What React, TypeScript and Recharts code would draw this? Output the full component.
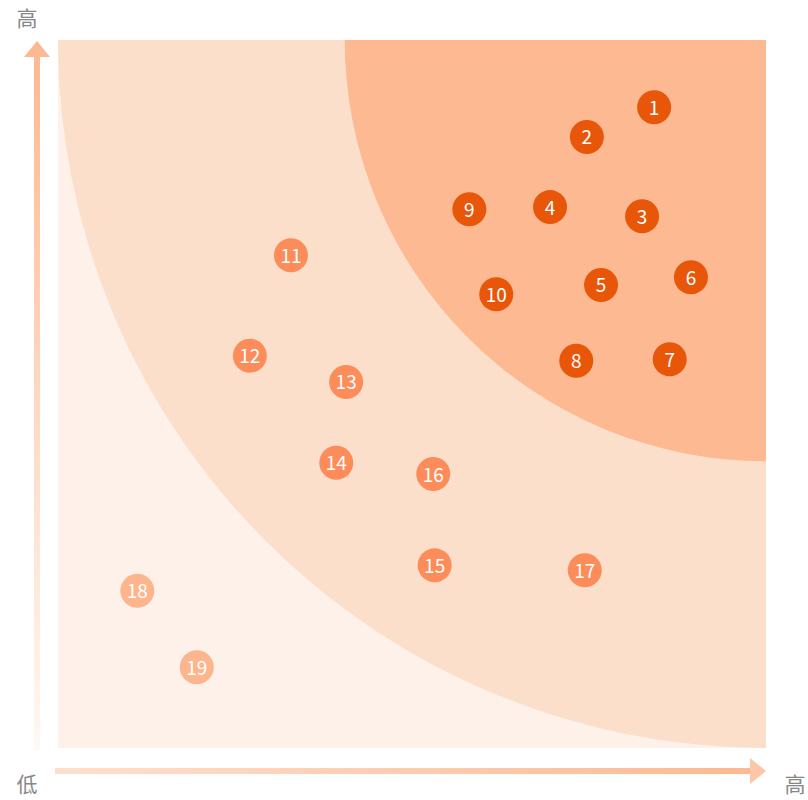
import { ScatterChart, Scatter, XAxis, YAxis, ReferenceArea } from 'recharts';

// 重要度矩阵：x = 紧急程度, y = 重要程度 (0-100)
const highIds = [1, 2, 3, 4, 5, 6, 7, 8, 9, 10];
const highX = [84.2, 74.7, 82.5, 69.5, 76.7, 89.4, 86.4, 73.2, 58.1, 61.9];
const highY = [90.5, 86.3, 75.1, 76.4, 65.4, 66.5, 54.9, 54.7, 76.1, 64.1];

const midIds = [11, 12, 13, 14, 15, 16, 17];
const midX = [32.9, 27.1, 40.7, 39.3, 53.2, 53.0, 74.4];
const midY = [69.6, 55.4, 51.7, 40.3, 25.8, 38.7, 25.1];

const lowIds = [18, 19];
const lowX = [11.2, 19.6];
const lowY = [22.2, 11.4];

const axisLabels = { yHigh: '高', xLow: '低', xHigh: '高' };

const toPoints = (ids: number[], xs: number[], ys: number[]) =>
  ids.map((id, i) => ({ id, x: xs[i], y: ys[i] }));

const highData = toPoints(highIds, highX, highY);
const midData = toPoints(midIds, midX, midY);
const lowData = toPoints(lowIds, lowX, lowY);

const makeDot = (color: string) => (props: any) => {
  const { cx, cy, payload } = props;
  return (
    <g>
      <circle cx={cx} cy={cy} r={17} fill={color} />
      <text
        x={cx}
        y={cy - 1}
        textAnchor="middle"
        dominantBaseline="central"
        fill="#fff"
        fontSize={19}
        fontFamily="'Noto Sans CJK SC', 'Noto Sans', sans-serif"
      >
        {payload.id}
      </text>
    </g>
  );
};

const Zones = (props: any) => {
  const { x, y, width, height } = props;
  const r1 = width;
  const r2 = width * 0.595;
  const right = x + width;
  const bottom = y + height;
  return (
    <g>
      <defs>
        <linearGradient id="vArrow" x1="0" y1="1" x2="0" y2="0">
          <stop offset="0%" stopColor="#fdb991" stopOpacity={0.1} />
          <stop offset="100%" stopColor="#fdb991" stopOpacity={1} />
        </linearGradient>
        <linearGradient id="hArrow" x1="0" y1="0" x2="1" y2="0">
          <stop offset="0%" stopColor="#fdb991" stopOpacity={0.45} />
          <stop offset="100%" stopColor="#fdb991" stopOpacity={1} />
        </linearGradient>
      </defs>
      <rect x={x} y={y} width={width} height={height} fill="#fdf1e9" />
      <path
        d={`M${right - r1},${y} A${r1},${r1} 0 0 0 ${right},${y + r1} L${right},${y} Z`}
        fill="#fbdfca"
      />
      <path
        d={`M${right - r2},${y} A${r2},${r2} 0 0 0 ${right},${y + r2} L${right},${y} Z`}
        fill="#fdb991"
      />
      {/* vertical arrow */}
      <rect x={x - 24} y={y + 16} width={6} height={height - 14} fill="url(#vArrow)" />
      <path d={`M${x - 21},${y + 1} L${x - 34},${y + 17} L${x - 8},${y + 17} Z`} fill="#fdb991" />
      {/* horizontal arrow */}
      <rect x={x - 3} y={bottom + 20} width={width - 13} height={6} fill="url(#hArrow)" />
      <path d={`M${right},${bottom + 23} L${right - 16},${bottom + 10} L${right - 16},${bottom + 36} Z`} fill="#fdc6a6" />
      <text x={x - 31} y={y - 23} textAnchor="middle" dominantBaseline="central" fill="#888" fontSize={21} fontFamily="'Noto Sans CJK SC', sans-serif">
        {axisLabels.yHigh}
      </text>
      <text x={x - 31} y={bottom + 35} textAnchor="middle" dominantBaseline="central" fill="#888" fontSize={21} fontFamily="'Noto Sans CJK SC', sans-serif">
        {axisLabels.xLow}
      </text>
      <text x={right + 29} y={bottom + 35} textAnchor="middle" dominantBaseline="central" fill="#888" fontSize={21} fontFamily="'Noto Sans CJK SC', sans-serif">
        {axisLabels.xHigh}
      </text>
    </g>
  );
};

export default function App() {
  return (
    <div style={{ position: 'absolute', left: 0, top: 0, width: 808, height: 800 }}>
      <ScatterChart width={808} height={800} margin={{ top: 40, right: 42, bottom: 52, left: 58 }}>
        <XAxis type="number" dataKey="x" domain={[0, 100]} hide />
        <YAxis type="number" dataKey="y" domain={[0, 100]} hide />
        <ReferenceArea x1={0} x2={100} y1={0} y2={100} shape={<Zones />} ifOverflow="visible" />
        <Scatter data={lowData} shape={makeDot('#fdb58e')} isAnimationActive={false} />
        <Scatter data={midData} shape={makeDot('#fc8d5a')} isAnimationActive={false} />
        <Scatter data={highData} shape={makeDot('#e8560a')} isAnimationActive={false} />
      </ScatterChart>
    </div>
  );
}
